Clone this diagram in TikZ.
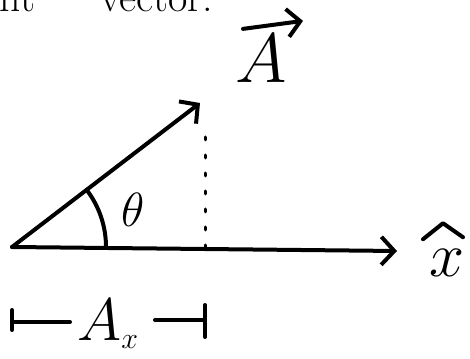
\RequirePackage{fix-cm}
\documentclass[tikz,border=0pt]{standalone}
\usetikzlibrary{arrows.meta}
\begin{document}
\begin{tikzpicture}[x=1pt,y=1pt,line join=round,line cap=round,
    pen/.style={line width=4pt},
    hand/.style={-{Straight Barb[length=13pt,width=28pt,line width=4pt]}},
    big/.style={inner sep=0pt,font=\fontsize{#1}{#1}\selectfont}]
    \useasboundingbox (0,0) rectangle (470,358);

    % text nahoře (uříznutý)
    \node[big=42,anchor=base east] (unit) at (36,346) {unit};
    \node[big=42,anchor=base west] (vec) at (100,346) {vector.};

    % počátek, konec vektoru a osa x
    \coordinate (O) at (12,111);
    \coordinate (T) at (200,255);
    \coordinate (X) at (397,107);
    \draw[pen,hand] (O) -- (T);
    \draw[pen,hand] (O) -- (X);

    % průmět konce vektoru na osu
    \coordinate (P) at (205,110);
    \coordinate (Q) at (205,222);
    \draw[line width=3pt,dash pattern=on 3pt off 15pt] (P) -- (Q);

    % úhel theta
    \draw[pen] (O) ++(0:94) arc (0:37.5:94);
    \node[big=48] (th) at (133,148) {$\theta$};

    % popisky vektorů
    \node[big=70] (A) at (261,299) {$A$};
    \draw[pen,hand] ([shift={(-18pt,6pt)}]A.north) -- ++(60,8);
    \node[big=63] (xh) at (447,95) {$x$};
    \draw[pen] ([shift={(-24pt,10pt)}]xh.north) -- ++(20,16) -- ++(20,-14);

    % délka průmětu A_x
    \node[big=60] (Ax) at (108,34) {$A_{\scriptscriptstyle x}$};
    \draw[pen] (12,28) -- (12,48);
    \draw[pen] (12,36) -- (70,36);
    \draw[pen] (155,38) -- (205,38);
    \draw[pen] (205,21) -- (205,53);
\end{tikzpicture}
\end{document}
